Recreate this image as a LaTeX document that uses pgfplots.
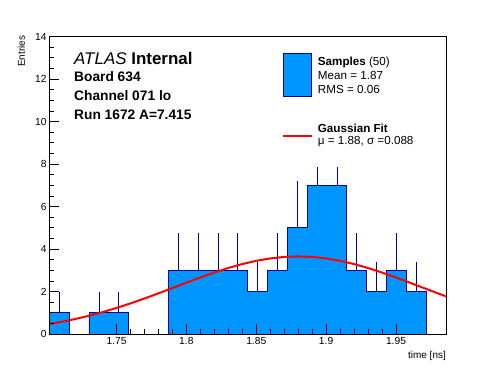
\documentclass[border=0pt]{standalone}
\usepackage{pgfplots}
\pgfplotsset{compat=1.18}
\usepackage{fontspec}
\setmainfont{Liberation Sans}
\definecolor{histfill}{RGB}{0,150,255}
\definecolor{histedge}{RGB}{0,0,153}
\begin{document}
\begin{tikzpicture}
\begin{scope}[x=1bp,y=-1bp,shift={(-49.3bp,334bp)}]
\useasboundingbox (0,0) rectangle (496,372);
\end{scope}
\begin{axis}[
  scale only axis, width=396.7bp, height=297.5bp,
  xmin=1.7019, xmax=1.9858, ymin=0, ymax=14,
  xtick={1.75,1.8,1.85,1.9,1.95},
  xticklabels={1.75,1.8,1.85,1.9,1.95},
  ytick={0,2,4,6,8,10,12,14},
  minor x tick num=4, minor y tick num=3,
  xtick pos=bottom, ytick pos=left, tick align=inside,
  major tick length=10bp, minor tick length=5bp,
  tick style={black, line width=0.7bp},
  axis line style={black, line width=0.8bp},
  tick label style={font=\fontsize{10.3}{10.3}\selectfont, black},
  yticklabel style={inner sep=2.5bp},
  /pgf/number format/assume math mode=true,
  axis on top,
]
\addplot[const plot, fill=histfill, draw=histedge, line width=0.9bp] coordinates {
(1.7019,1) (1.7161,0) (1.7303,1) (1.7445,1) (1.7587,0) (1.7729,0) (1.7871,3)
(1.8013,3) (1.8155,3) (1.8297,3) (1.8439,2) (1.8581,3) (1.8723,5) (1.8865,7)
(1.9007,7) (1.9149,3) (1.9291,2) (1.9433,3) (1.9575,2) (1.9717,0) (1.9858,0)} \closedcycle;
\addplot[draw=none, no markers,
  error bars/.cd, y dir=plus, y explicit, error mark=none,
  error bar style={histedge, line width=0.8bp}] coordinates {
(1.7090,1) +- (0,1)
(1.7374,1) +- (0,1)
(1.7516,1) +- (0,1)
(1.7942,3) +- (0,1.73)
(1.8084,3) +- (0,1.73)
(1.8226,3) +- (0,1.73)
(1.8368,3) +- (0,1.73)
(1.8510,2) +- (0,1.38)
(1.8652,3) +- (0,1.73)
(1.8794,5) +- (0,2.2)
(1.8936,7) +- (0,0.87)
(1.9078,7) +- (0,0.87)
(1.9220,3) +- (0,1.73)
(1.9362,2) +- (0,1.38)
(1.9504,3) +- (0,1.73)
(1.9646,2) +- (0,1.38)};
\addplot[red, line width=2bp] coordinates {
(1.70,0.451) (1.71,0.565) (1.72,0.699) (1.73,0.854) (1.74,1.030) (1.75,1.226)
(1.76,1.440) (1.77,1.671) (1.78,1.914) (1.79,2.163) (1.80,2.415) (1.81,2.660)
(1.82,2.893) (1.83,3.106) (1.84,3.292) (1.85,3.444) (1.86,3.557) (1.87,3.627)
(1.88,3.650) (1.89,3.627) (1.90,3.557) (1.91,3.444) (1.92,3.292) (1.93,3.106)
(1.94,2.893) (1.95,2.660) (1.96,2.415) (1.97,2.163) (1.98,1.914) (1.99,1.671)};
\end{axis}
\begin{scope}[x=1bp,y=-1bp,shift={(-49.3bp,334bp)}]
\node[anchor=base west, inner sep=0, font=\fontsize{17}{17}\selectfont] at (74,64.3) {\textit{ATLAS} \textbf{Internal}};
\node[anchor=base west, inner sep=0, font=\fontsize{13.8}{13.8}\selectfont\bfseries] at (74,81) {Board 634};
\node[anchor=base west, inner sep=0, font=\fontsize{13.8}{13.8}\selectfont\bfseries] at (74,100) {Channel 071 lo};
\node[anchor=base west, inner sep=0, font=\fontsize{13.8}{13.8}\selectfont\bfseries] at (74,119.3) {Run 1672 A=7.415};
\draw[fill=histfill, draw=histedge, line width=0.9bp] (283.3,53.3) rectangle (311.7,96.7);
\draw[red, line width=2bp] (283.3,136) -- (311.7,136);
\node[anchor=base west, inner sep=0, font=\fontsize{11.7}{11.7}\selectfont] at (317.7,65) {\textbf{Samples} (50)};
\node[anchor=base west, inner sep=0, font=\fontsize{11.7}{11.7}\selectfont] at (317.7,79.3) {Mean = 1.87};
\node[anchor=base west, inner sep=0, font=\fontsize{11.7}{11.7}\selectfont] at (317.7,93.3) {RMS = 0.06};
\node[anchor=base west, inner sep=0, font=\fontsize{11.7}{11.7}\selectfont] at (317.7,132.7) {\textbf{Gaussian Fit}};
\node[anchor=base west, inner sep=0, font=\fontsize{11.7}{11.7}\selectfont] at (317.7,144.3) {μ = 1.88, σ =0.088};
\node[anchor=base east, inner sep=0, font=\fontsize{10}{10}\selectfont] at (446,358) {time [ns]};
\node[anchor=base east, inner sep=0, rotate=90, font=\fontsize{10}{10}\selectfont] at (25,35.5) {Entries};
\end{scope}
\end{tikzpicture}
\end{document}
